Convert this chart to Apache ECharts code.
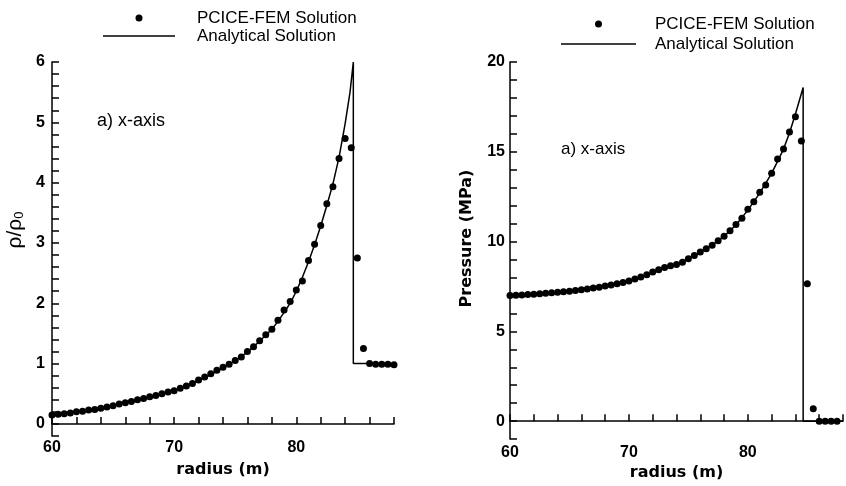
<!DOCTYPE html>
<html>
<head>
<meta charset="utf-8">
<script src="https://cdn.jsdelivr.net/npm/echarts@6/dist/echarts.min.js"></script>
<style>
html,body{margin:0;padding:0;background:#fff;}
#chart{width:846px;height:486px;}
</style>
</head>
<body>
<div id="chart"></div>
<script>
// ---------- data ----------
const seriesNames = ['PCICE-FEM Solution', 'Analytical Solution'];
const annotationText = 'a) x-axis';

// Left panel: density ratio
const densR = [60.0,60.5,61.0,61.5,62.0,62.5,63.0,63.5,64.0,64.5,65.0,65.5,66.0,66.5,67.0,67.5,68.0,68.5,69.0,69.5,
  70.0,70.5,71.0,71.5,72.0,72.5,73.0,73.5,74.0,74.5,75.0,75.5,76.0,76.5,77.0,77.5,78.0,78.5,79.0,79.5,
  80.0,80.5,81.0,81.5,82.0,82.5,83.0,83.5,84.0,84.5,85.0,85.5,86.0,86.5,87.0,87.5,88.0];
const densFEM = [0.15,0.16,0.17,0.18,0.20,0.21,0.23,0.24,0.26,0.28,0.30,0.33,0.35,0.37,0.40,0.42,0.45,0.47,0.50,0.53,
  0.55,0.59,0.63,0.67,0.73,0.78,0.83,0.89,0.94,0.99,1.05,1.11,1.20,1.28,1.38,1.48,1.57,1.72,1.89,2.03,
  2.22,2.37,2.71,2.98,3.29,3.65,3.93,4.40,4.73,4.58,2.75,1.25,1.00,0.99,0.99,0.99,0.98];
const densExactR = [60,62,64,66,68,70,71,72,73,74,75,76,77,78,78.5,79,79.5,80,80.5,81,81.5,82,82.5,83,83.5,84,84.4,84.67,84.67,88];
const densExact  = [0.15,0.20,0.27,0.35,0.44,0.55,0.63,0.72,0.82,0.93,1.05,1.19,1.37,1.57,1.70,1.85,2.00,2.20,2.43,2.69,2.97,3.28,3.62,3.98,4.42,4.98,5.50,6.00,1.00,1.00];

// Right panel: pressure (MPa)
const presR = [60.0,60.5,61.0,61.5,62.0,62.5,63.0,63.5,64.0,64.5,65.0,65.5,66.0,66.5,67.0,67.5,68.0,68.5,69.0,69.5,
  70.0,70.5,71.0,71.5,72.0,72.5,73.0,73.5,74.0,74.5,75.0,75.5,76.0,76.5,77.0,77.5,78.0,78.5,79.0,79.5,
  80.0,80.5,81.0,81.5,82.0,82.5,83.0,83.5,84.0,84.5,85.0,85.5,86.0,86.5,87.0,87.5];
const presFEM = [7.00,7.01,7.03,7.05,7.07,7.09,7.12,7.15,7.18,7.21,7.24,7.28,7.32,7.36,7.41,7.46,7.52,7.58,7.65,7.72,
  7.80,7.92,8.03,8.15,8.30,8.43,8.55,8.65,8.72,8.85,9.05,9.22,9.42,9.60,9.80,10.05,10.30,10.60,10.95,11.30,
  11.80,12.22,12.75,13.15,13.80,14.60,15.15,16.10,16.95,15.60,7.65,0.69,0.00,0.00,0.00,0.00];
const presExactR = [60,62,64,66,68,70,72,74,75,76,77,78,79,80,81,82,83,83.5,84,84.65,84.65,88];
const presExact  = [7.00,7.07,7.18,7.32,7.52,7.80,8.28,8.75,9.05,9.40,9.80,10.30,10.92,11.75,12.70,13.80,15.15,16.05,17.10,18.58,0.00,0.00];

// axis ranges
const xMin = 60, xMax = 88, xStep = 2, xLabelStep = 10;
const rhoMin = -0.2, rhoMax = 6, rhoStep = 0.2;
const pMin = -1, pMax = 20, pStep = 1, pLabelStep = 5;

// ---------- build ----------
const pairs = (xs, ys) => xs.map((x, i) => [x, ys[i]]);
const BLACK = '#000';
const tickFont = {color: BLACK, fontFamily: 'Liberation Sans, Arial, sans-serif', fontWeight: 'bold', fontSize: 16};
const nameFont = {color: BLACK, fontFamily: 'DejaVu Sans, sans-serif', fontWeight: 'bold', fontSize: 16};
const isMult = (v, s) => Math.abs(v / s - Math.round(v / s)) < 1e-6;
const lineIcon = 'path://M0 0H72V1.5H0Z';

function xAxisCfg(gridIndex, gap, margin) {
  return {
    type: 'value', gridIndex, min: xMin, max: xMax, interval: xStep,
    name: 'radius (m)', nameLocation: 'middle', nameGap: gap, nameTextStyle: nameFont,
    axisLine: {show: true, lineStyle: {color: BLACK, width: 1.5}},
    axisTick: {show: true, inside: true, length: 7, lineStyle: {color: BLACK, width: 1.5}},
    axisLabel: Object.assign({margin, formatter: v => isMult(v, xLabelStep) ? String(Math.round(v)) : ''}, tickFont),
    splitLine: {show: false}
  };
}

const option = {
  backgroundColor: '#fff',
  animation: false,
  grid: [
    {left: 52, top: 62, width: 342, height: 374},
    {left: 510, top: 62, width: 341, height: 378}
  ],
  xAxis: [xAxisCfg(0, 26, 4), xAxisCfg(1, 25, 5)],
  yAxis: [
    {
      type: 'value', gridIndex: 0, min: rhoMin, max: rhoMax, interval: rhoStep,
      name: '{a|ρ/ρ}{b|0}', nameLocation: 'middle', nameRotate: 90, nameGap: 26,
      nameTextStyle: {padding: [0, 0, 0, 38], rich: {
        a: {fontFamily: 'Liberation Sans, Arial, sans-serif', fontSize: 21, color: BLACK},
        b: {fontFamily: 'Liberation Sans, Arial, sans-serif', fontSize: 13, color: BLACK, padding: [9, 0, 0, 0]}
      }},
      axisLine: {show: true, lineStyle: {color: BLACK, width: 1.5}},
      axisTick: {show: true, inside: true, length: 7, lineStyle: {color: BLACK, width: 1.5}},
      axisLabel: Object.assign({margin: 7, formatter: v => isMult(v, 1) ? String(Math.round(v)) : ''}, tickFont),
      splitLine: {show: false}
    },
    {
      type: 'value', gridIndex: 1, min: pMin, max: pMax, interval: pStep,
      name: 'Pressure (MPa)', nameLocation: 'middle', nameRotate: 90, nameGap: 35,
      nameTextStyle: Object.assign({padding: [0, 0, 0, 24]}, nameFont),
      axisLine: {show: true, lineStyle: {color: BLACK, width: 1.5}},
      axisTick: {show: true, inside: true, length: 7, lineStyle: {color: BLACK, width: 1.5}},
      axisLabel: Object.assign({margin: 5, formatter: v => isMult(v, pLabelStep) ? String(Math.round(v)) : ''}, tickFont),
      splitLine: {show: false}
    }
  ],
  legend: [
    {
      left: 98, top: 4, orient: 'vertical', itemWidth: 72, itemHeight: 7, itemGap: 0,
      selectedMode: false,
      data: [{name: seriesNames[0], icon: 'circle'}, {name: seriesNames[1], icon: lineIcon}],
      textStyle: {color: BLACK, fontFamily: 'Liberation Sans, Arial, sans-serif', fontSize: 17, lineHeight: 18, padding: [0, 0, 0, 17]}
    },
    {
      left: 556, top: 10, orient: 'vertical', itemWidth: 75, itemHeight: 7, itemGap: 2,
      selectedMode: false,
      data: [{name: seriesNames[0], icon: 'circle'}, {name: seriesNames[1], icon: lineIcon}],
      textStyle: {color: BLACK, fontFamily: 'Liberation Sans, Arial, sans-serif', fontSize: 17, lineHeight: 18, padding: [0, 0, 0, 14]}
    }
  ],
  graphic: [
    {type: 'text', left: 97, top: 112, style: {text: annotationText, fill: BLACK, font: '18px "Liberation Sans", Arial, sans-serif'}},
    {type: 'text', left: 561, top: 141, style: {text: annotationText, fill: BLACK, font: '17px "Liberation Sans", Arial, sans-serif'}}
  ],
  series: [
    {
      name: seriesNames[1], type: 'line', xAxisIndex: 0, yAxisIndex: 0,
      data: pairs(densExactR, densExact), symbol: 'none',
      lineStyle: {color: BLACK, width: 1.5}, itemStyle: {color: BLACK}, z: 2
    },
    {
      name: seriesNames[0], type: 'scatter', xAxisIndex: 0, yAxisIndex: 0,
      data: pairs(densR, densFEM), symbol: 'circle', symbolSize: 7,
      itemStyle: {color: BLACK, opacity: 1}, z: 3
    },
    {
      name: seriesNames[1], type: 'line', xAxisIndex: 1, yAxisIndex: 1,
      data: pairs(presExactR, presExact), symbol: 'none',
      lineStyle: {color: BLACK, width: 1.5}, itemStyle: {color: BLACK}, z: 2
    },
    {
      name: seriesNames[0], type: 'scatter', xAxisIndex: 1, yAxisIndex: 1,
      data: pairs(presR, presFEM), symbol: 'circle', symbolSize: 7,
      itemStyle: {color: BLACK, opacity: 1}, z: 3
    }
  ]
};

const chart = echarts.init(document.getElementById('chart'), null, {renderer: 'canvas'});
chart.setOption(option);
</script>
</body>
</html>
